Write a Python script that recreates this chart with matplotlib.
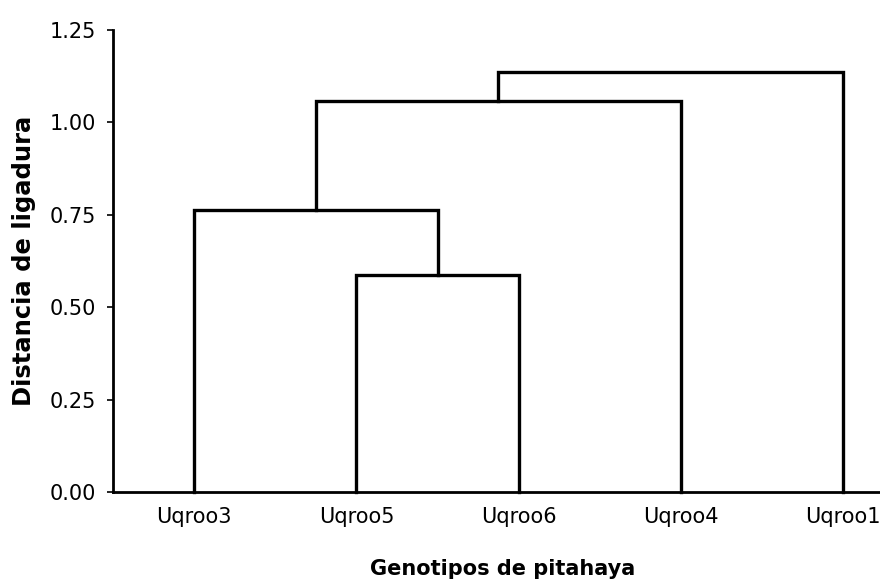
import matplotlib
matplotlib.use('Agg')
import matplotlib.pyplot as plt

# leaves in dendrogram order
genotipos = ['Uqroo3', 'Uqroo5', 'Uqroo6', 'Uqroo4', 'Uqroo1']
# joins: (left node, right node, linkage distance); nodes 5.. are the new clusters
enlaces_izq = [1, 0, 6, 7]
enlaces_der = [2, 5, 3, 4]
distancias = [0.587, 0.763, 1.058, 1.136]
y_ticks = [0.00, 0.25, 0.50, 0.75, 1.00, 1.25]

fig = plt.figure(figsize=(8.8, 5.82), dpi=100)
ax = fig.add_axes([0.1284, 0.1546, 0.9222, 0.7938])

# x position and height of every node
pos_x = [i + 1 for i in range(len(genotipos))]
alto = [0.0] * len(genotipos)
for a, b, d in zip(enlaces_izq, enlaces_der, distancias):
    xa, xb = pos_x[a], pos_x[b]
    ax.plot([xa, xa, xb, xb], [alto[a], d, d, alto[b]], color='black', lw=2.4,
            solid_joinstyle='miter', clip_on=False)
    pos_x.append((xa + xb) / 2)
    alto.append(d)

ax.set_xlim(0.5, 5.5)
ax.set_ylim(0, 1.25)
ax.set_yticks(y_ticks)
ax.set_yticklabels([f'{v:.2f}' for v in y_ticks])
ax.set_xticks(range(1, len(genotipos) + 1))
ax.set_xticklabels(genotipos)

for s in ['top', 'right']:
    ax.spines[s].set_visible(False)
for s in ['left', 'bottom']:
    ax.spines[s].set_linewidth(2.0)

ax.tick_params(axis='y', length=4, width=1.2, pad=8, labelsize=15)
ax.tick_params(axis='x', length=0, pad=11, labelsize=15)

ax.set_ylabel('Distancia de ligadura', fontsize=17.5, fontweight='bold')
# label anchor is its right edge once rotated
ax.yaxis.set_label_coords(-(113 - 36) / 811, 0.5)
ax.set_xlabel('Genotipos de pitahaya', fontsize=15, fontweight='bold')
ax.xaxis.set_label_coords((502 - 113) / 811, -(559 - 492) / 462)

fig.savefig('out.png', dpi=100)
